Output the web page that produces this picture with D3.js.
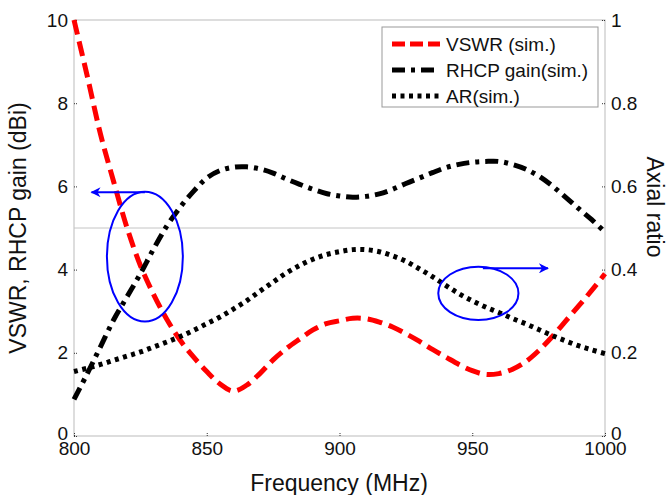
<!DOCTYPE html>
<html>
<head>
<meta charset="utf-8">
<script src="https://d3js.org/d3.v7.min.js"></script>
<style>
  body { margin: 0; background: #fff; }
  text { font-family: "Liberation Sans", Arial, Helvetica, sans-serif; fill: #111; }
</style>
</head>
<body>
<svg width="668" height="495"></svg>
<script>
// frequency points (MHz)
var freq = [800,805,810,815,820,825,830,835,840,845,850,855,860,865,870,875,880,885,890,895,
            900,905,910,915,920,925,930,935,940,945,950,955,960,965,970,975,980,985,990,995,1000];

var vswr = [10,8.65,7.25,6.1,5.0,4.1,3.4,2.8,2.3,1.9,1.55,1.25,1.08,1.22,1.5,1.83,2.1,2.33,2.55,2.7,
            2.77,2.83,2.82,2.74,2.62,2.46,2.28,2.08,1.9,1.72,1.57,1.48,1.5,1.6,1.78,2.05,2.38,2.75,3.12,3.5,3.9];

var rhcp = [0.88,1.5,2.15,2.8,3.35,3.9,4.5,5.05,5.5,5.88,6.2,6.38,6.46,6.47,6.42,6.32,6.18,6.05,5.93,5.83,
            5.77,5.74,5.76,5.82,5.93,6.07,6.2,6.33,6.45,6.53,6.58,6.6,6.6,6.53,6.42,6.25,6.02,5.75,5.47,5.2,4.9];

var ar = [0.155,0.163,0.172,0.182,0.192,0.202,0.214,0.226,0.239,0.254,0.27,0.286,0.305,0.325,0.348,0.37,0.392,0.41,0.425,0.436,
          0.443,0.448,0.448,0.443,0.433,0.42,0.402,0.383,0.362,0.342,0.325,0.31,0.297,0.283,0.27,0.256,0.242,0.229,0.217,0.207,0.198];

var xTicks = [800,850,900,950,1000];
var yLeftTicks = [0,2,4,6,8,10];
var yRightTicks = [0,0.2,0.4,0.6,0.8,1];
var legendNames = ["VSWR (sim.)", "RHCP gain(sim.)", "AR(sim.)"];

// blue ellipse callouts (in MHz / left-axis units) and their arrows
var callouts = [
  {cx: 826.7, cy: 4.31, rx: 14.3, ry: 1.56, x0: 826.7, x1: 806.6, y: 5.86},
  {cx: 952.3, cy: 3.43, rx: 15.1, ry: 0.64, x0: 954.0, x1: 978.5, y: 4.03}
];

var svg = d3.select("svg");
var pL = 74, pR = 605, pT = 20, pB = 436;

var x = d3.scaleLinear().domain([800,1000]).range([pL,pR]);
var yL = d3.scaleLinear().domain([0,10]).range([pB,pT]);
var yR = d3.scaleLinear().domain([0,1]).range([pB,pT]);

// box
svg.append("rect").attr("x",pL).attr("y",pT).attr("width",pR-pL).attr("height",pB-pT)
  .attr("fill","none").attr("stroke","#bbb").attr("stroke-width",1);

// grid line at 5
svg.append("line").attr("x1",pL).attr("x2",pR).attr("y1",yL(5)).attr("y2",yL(5))
  .attr("stroke","#c4c4c4").attr("stroke-width",1);

// axes
var gx = svg.append("g").attr("transform","translate(0,"+pB+")")
  .call(d3.axisBottom(x).tickValues(xTicks).tickSize(-3).tickPadding(5).tickFormat(d3.format("d")));
var gl = svg.append("g").attr("transform","translate("+pL+",0)")
  .call(d3.axisLeft(yL).tickValues(yLeftTicks).tickSize(-3).tickPadding(6));
var gr = svg.append("g").attr("transform","translate("+pR+",0)")
  .call(d3.axisRight(yR).tickValues(yRightTicks).tickSize(-3).tickPadding(6).tickFormat(function(d){ return String(d); }));

[gx,gl,gr].forEach(function(g) {
  g.select(".domain").remove();
  g.selectAll(".tick line").attr("stroke","#333").attr("stroke-dasharray","1,1");
  g.selectAll(".tick text").style("font-size","19px").style("font-family","Liberation Sans, Arial, sans-serif").attr("fill","#111");
});
gx.selectAll(".tick text").attr("dy","0.75em");
// lift the two zero labels a little, as in the original
gl.selectAll(".tick").filter(function(d){ return d === 0; }).select("text").attr("dy","0.2em");
gr.selectAll(".tick").filter(function(d){ return d === 0; }).select("text").attr("dy","0.2em");

// axis titles
svg.append("text").text("VSWR, RHCP gain (dBi)")
  .attr("transform","translate(26,228) rotate(-90)")
  .attr("text-anchor","middle").style("font-size","23px");
svg.append("text").text("Axial ratio")
  .attr("transform","translate(647,207) rotate(90)")
  .attr("text-anchor","middle").style("font-size","23px");
svg.append("text").text("Frequency (MHz)")
  .attr("x",339).attr("y",491)
  .attr("text-anchor","middle").style("font-size","23px");

// curves
var styles = [
  {data: vswr, scale: yL, color: "#ff0000", dash: "15,7"},
  {data: rhcp, scale: yL, color: "#000", dash: "13,6,4,6"},
  {data: ar,   scale: yR, color: "#000", dash: "4,4.5"}
];

styles.forEach(function(s) {
  var line = d3.line()
    .x(function(d,i){ return x(freq[i]); })
    .y(function(d){ return s.scale(d); })
    .curve(d3.curveCatmullRom);
  svg.append("path").datum(s.data)
    .attr("d", line)
    .attr("fill","none")
    .attr("stroke", s.color)
    .attr("stroke-width", 5)
    .attr("stroke-dasharray", s.dash);
});

// callouts
var defs = svg.append("defs");
defs.append("marker").attr("id","ah").attr("viewBox","0 0 10 10")
  .attr("refX",9).attr("refY",5).attr("markerWidth",14).attr("markerHeight",10)
  .attr("orient","auto").attr("markerUnits","userSpaceOnUse")
  .append("path").attr("d","M0,0 L10,5 L0,10 L3,5 Z").attr("fill","#0000ff");

callouts.forEach(function(c) {
  svg.append("ellipse")
    .attr("cx", x(c.cx)).attr("cy", yL(c.cy))
    .attr("rx", x(c.cx + c.rx) - x(c.cx))
    .attr("ry", yL(c.cy) - yL(c.cy + c.ry))
    .attr("fill","none").attr("stroke","#0000ff").attr("stroke-width",2);
  svg.append("line")
    .attr("x1", x(c.x0)).attr("x2", x(c.x1))
    .attr("y1", yL(c.y)).attr("y2", yL(c.y))
    .attr("stroke","#0000ff").attr("stroke-width",2)
    .attr("marker-end","url(#ah)");
});

// legend
var lg = svg.append("g");
lg.append("rect").attr("x",382).attr("y",27).attr("width",216).attr("height",80)
  .attr("fill","#fff").attr("stroke","#999").attr("stroke-width",1);
legendNames.forEach(function(name, i) {
  var yy = 44 + i*26;
  lg.append("line").attr("x1",392).attr("x2",440).attr("y1",yy).attr("y2",yy)
    .attr("stroke", styles[i].color).attr("stroke-width",5)
    .attr("stroke-dasharray", i === 0 ? "13,5" : styles[i].dash);
  lg.append("text").text(name).attr("x",446).attr("y",yy).attr("dy","0.35em")
    .style("font-size","19px");
});
</script>
</body>
</html>
